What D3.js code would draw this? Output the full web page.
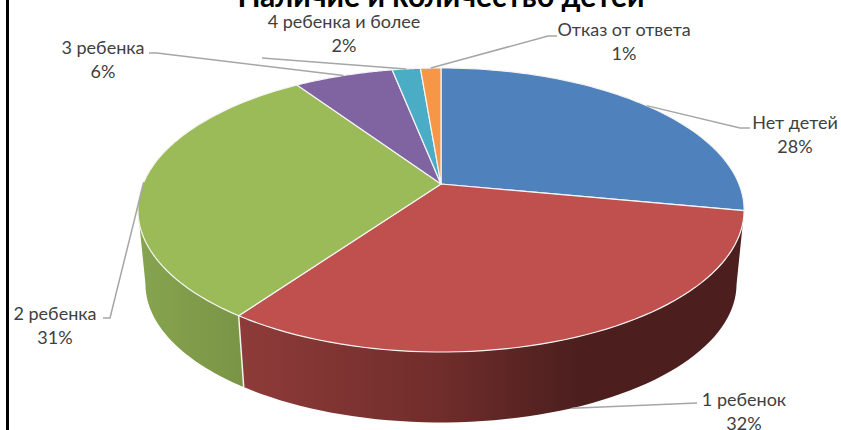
<!DOCTYPE html>
<html>
<head>
<meta charset="utf-8">
<script src="https://cdn.jsdelivr.net/npm/d3@7"></script>
<style>
  html, body { margin: 0; padding: 0; background: white; }
  svg { display: block; }
</style>
</head>
<body>
<div id="chart"></div>
<script>
var categories = ["Нет детей", "1 ребенок", "2 ребенка", "3 ребенка", "4 ребенка и более", "Отказ от ответа"];
var shares = [28, 31.8, 30.8, 6.3, 1.8, 1.3];
var percentLabels = ["28%", "32%", "31%", "6%", "2%", "1%"];
var colors = ["#4f81bd", "#c0504d", "#9bbb59", "#8064a2", "#4bacc6", "#f79646"];
var titleText = "Наличие и количество детей";

var width = 841, height = 430;

var svg = d3.select("#chart")
  .append("svg")
  .attr("width", width)
  .attr("height", height)
  .style("background", "white")
  .style("font-family", "Lato, sans-serif");

// tilted disc: the hub sits above the middle of the ellipse
var apexX = 441, apexY = 184;
var spanX = 298, spanY = 103.6, tilt = -0.183;
// lower rim of the disc
var lowScale = 0.975, topMidY = 210, lowMidY = 284;

function rimTop(a) {
  var u = Math.sin(a), v = -Math.cos(a), w = 1 + tilt * v;
  return [apexX + spanX * u / w, (apexY + spanY * v) / w];
}
function rimLow(a) {
  var p = rimTop(a);
  return [apexX + (p[0] - apexX) * lowScale, lowMidY + (p[1] - topMidY) * lowScale];
}

var pie = d3.pie().sort(null)(shares);
var line = d3.line();

function sweep(a0, a1, fn) {
  return d3.range(0, 61).map(function (i) { return fn(a0 + (a1 - a0) * i / 60); });
}

var defs = svg.append("defs");
function wallGradient(id, x1, x2, stops) {
  var g = defs.append("linearGradient").attr("id", id)
    .attr("gradientUnits", "userSpaceOnUse")
    .attr("x1", x1).attr("x2", x2).attr("y1", 0).attr("y2", 0);
  stops.forEach(function (s) {
    g.append("stop").attr("offset", s[0]).attr("stop-color", s[1]);
  });
}
wallGradient("wallRed", 240, 735, [[0, "#8e3b39"], [0.4, "#702d2b"], [0.68, "#4c1f1e"], [1, "#4c1f1e"]]);
wallGradient("wallGreen", 140, 245, [[0, "#86a44f"], [1, "#7a9445"]]);

// side wall, only the part facing us
var leftmost = 259.5 * Math.PI / 180;
var walls = [
  { a0: pie[1].startAngle, a1: pie[1].endAngle, fill: "url(#wallRed)" },
  { a0: pie[2].startAngle, a1: leftmost, fill: "url(#wallGreen)" }
];
svg.append("g").selectAll("path")
  .data(walls)
  .enter().append("path")
  .attr("d", function (d) {
    return line(sweep(d.a0, d.a1, rimTop).concat(sweep(d.a1, d.a0, rimLow))) + "Z";
  })
  .attr("fill", function (d) { return d.fill; });

// white seam between the two walls
var seam = pie[2].startAngle;
svg.append("path")
  .attr("d", line([rimTop(seam), rimLow(seam)]))
  .attr("stroke", "#f2f2f2")
  .attr("stroke-width", 1.5)
  .attr("fill", "none");

// top of the disc
svg.append("g").selectAll("path")
  .data(pie)
  .enter().append("path")
  .attr("d", function (d) {
    return line([[apexX, apexY]].concat(sweep(d.startAngle, d.endAngle, rimTop))) + "Z";
  })
  .attr("fill", function (d, i) { return colors[i]; })
  .attr("stroke", "#f4f4f4")
  .attr("stroke-width", 1.2)
  .attr("stroke-linejoin", "round");

// leader lines: elbows are layout, the slice end comes from the pie
var elbows = [
  [[740, 128], [750, 128]],
  [[697, 403]],
  [[110, 318], [103, 318]],
  [[157, 53], [149, 53]],
  [[262, 58]],
  [[548, 36], [557, 36]]
];
svg.append("g").selectAll("path")
  .data(pie)
  .enter().append("path")
  .attr("d", function (d, i) {
    var mid = (d.startAngle + d.endAngle) / 2;
    var start = i == 1 ? rimLow(mid) : rimTop(mid);
    return line([start].concat(elbows[i]));
  })
  .attr("fill", "none")
  .attr("stroke", "#a6a6a6")
  .attr("stroke-width", 1.5);

// labels
var labelPos = [
  { x: 795, y: 129 },
  { x: 744, y: 406 },
  { x: 55, y: 320 },
  { x: 103, y: 54 },
  { x: 344, y: 28 },
  { x: 624, y: 36 }
];
var labels = svg.append("g").selectAll("g")
  .data(categories)
  .enter().append("g")
  .attr("transform", function (d, i) { return "translate(" + labelPos[i].x + "," + labelPos[i].y + ")"; })
  .attr("text-anchor", "middle")
  .attr("fill", "#404040")
  .style("font-size", "18px");
labels.append("text").text(function (d) { return d; });
labels.append("text").attr("y", 24).text(function (d, i) { return percentLabels[i]; });

// title is cut by the top of the picture
svg.append("text")
  .attr("x", 441)
  .attr("y", 6.5)
  .attr("text-anchor", "middle")
  .attr("fill", "black")
  .style("font-size", "30px")
  .style("font-weight", "bold")
  .text(titleText);

// frame, only the left side shows
svg.append("line")
  .attr("x1", 7.5).attr("x2", 7.5)
  .attr("y1", 0).attr("y2", height)
  .attr("stroke", "black")
  .attr("stroke-width", 3);
</script>
</body>
</html>
